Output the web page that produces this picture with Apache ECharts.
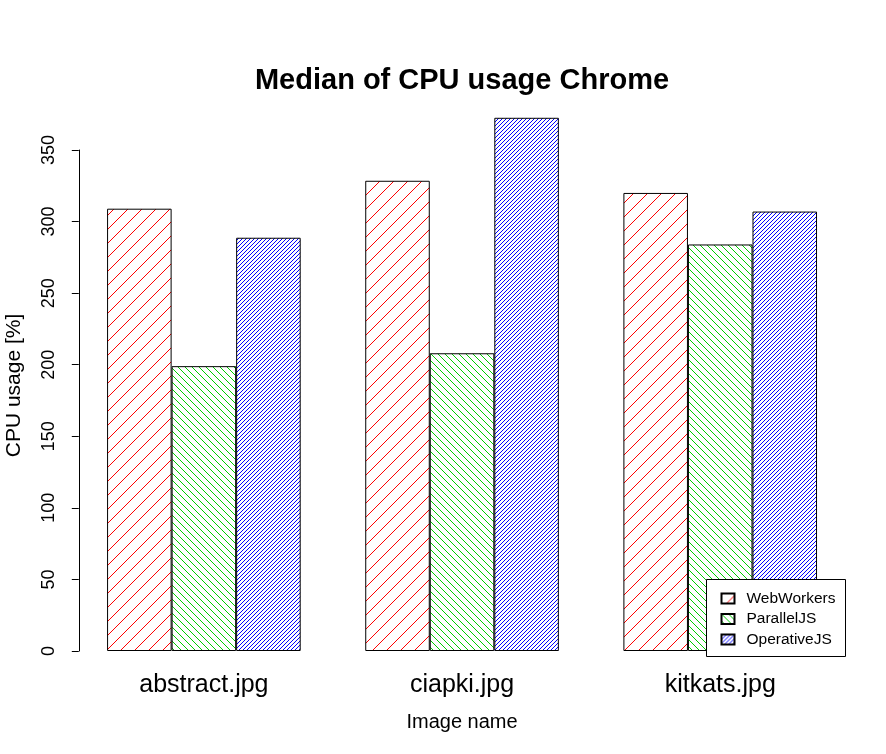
<!DOCTYPE html>
<html>
<head>
<meta charset="utf-8">
<script src="https://cdn.jsdelivr.net/npm/echarts@6/dist/echarts.min.js"></script>
<style>
html,body{margin:0;padding:0;background:#fff;}
#chart{width:886px;height:754px;}
</style>
</head>
<body>
<div id="chart"></div>
<script>
var categories = ['abstract.jpg', 'ciapki.jpg', 'kitkats.jpg'];
var seriesNames = ['WebWorkers', 'ParallelJS', 'OperativeJS'];
var webWorkers = [309, 328.5, 320];
var parallelJS = [199, 208, 284];
var operativeJS = [288.7, 372.5, 307];
var yTicks = [0, 50, 100, 150, 200, 250, 300, 350];

// hatch tile: 1px diagonal line, period "step"
function hatch(color, step, dir) {
  var c = document.createElement('canvas');
  c.width = step; c.height = step;
  var ctx = c.getContext('2d');
  ctx.fillStyle = color;
  for (var i = 0; i < step; i++) {
    if (dir === '/') ctx.fillRect(i, (step - i) % step, 1, 1);
    else ctx.fillRect(i, i, 1, 1);
  }
  return { image: c, repeat: 'repeat' };
}

var patterns = [
  hatch('#ff0000', 14, '/'),
  hatch('#00cd00', 7, '\\'),
  hatch('#0000ff', 4, '/')
];
var values = [webWorkers, parallelJS, operativeJS];

var chart = echarts.init(document.getElementById('chart'), null, { renderer: 'canvas' });
var font = 'Liberation Sans, Arial, sans-serif';

chart.setOption({
  animation: false,
  backgroundColor: '#fff',
  textStyle: { fontFamily: font },
  title: {
    text: 'Median of CPU usage Chrome',
    left: 457,
    textAlign: 'center',
    top: 61,
    textStyle: { fontSize: 29, fontWeight: 'bold', color: '#000', fontFamily: font }
  },
  grid: { left: 74.8, right: 36.7, top: 150, bottom: 103, containLabel: false, outerBoundsMode: 'none' },
  legend: {
    orient: 'vertical',
    left: 706.5,
    top: 579.5,
    backgroundColor: '#fff',
    borderColor: '#000',
    borderWidth: 1,
    borderRadius: 0,
    padding: [11, 10, 9, 14],
    itemGap: 4.5,
    itemWidth: 13,
    itemHeight: 10,
    icon: 'rect',
    textStyle: { fontSize: 15.5, color: '#000', fontFamily: font, padding: [0, 0, 0, 7] },
    data: seriesNames
  },
  xAxis: {
    type: 'category',
    data: categories,
    name: 'Image name',
    nameLocation: 'middle',
    nameGap: 61,
    nameTextStyle: { fontSize: 20, color: '#000', fontFamily: font },
    axisLine: { show: false },
    axisTick: { show: false },
    axisLabel: { fontSize: 25, color: '#000', margin: 22, fontFamily: font },
    splitLine: { show: false }
  },
  yAxis: {
    type: 'value',
    min: 0,
    max: 350,
    interval: 50,
    offset: -4,
    name: 'CPU usage [%]',
    nameLocation: 'middle',
    nameRotate: 90,
    nameGap: 54,
    nameTextStyle: { fontSize: 21, color: '#000', fontFamily: font, padding: [0, 0, 0, 30] },
    axisLine: { show: true, lineStyle: { color: '#000', width: 1 } },
    axisTick: { show: true, length: 7, lineStyle: { color: '#000', width: 1 } },
    axisLabel: { rotate: 90, fontSize: 18, color: '#000', margin: 21, fontFamily: font,
      formatter: function (v) { return yTicks.indexOf(v) >= 0 ? String(v) : ''; } },
    splitLine: { show: false }
  },
  series: seriesNames.map(function (name, i) {
    return {
      name: name,
      type: 'bar',
      data: values[i],
      clip: false,
      barGap: '0%',
      barCategoryGap: '25%',
      itemStyle: { color: patterns[i], borderColor: '#000', borderWidth: 1 },
      emphasis: { disabled: true }
    };
  })
});
</script>
</body>
</html>
